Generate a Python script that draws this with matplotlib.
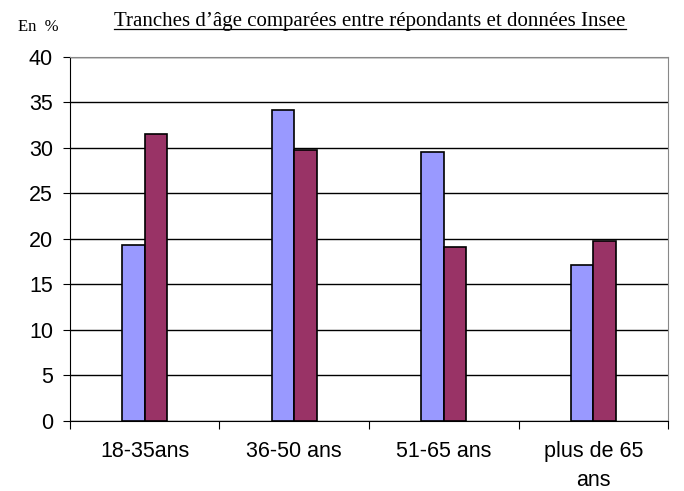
import matplotlib
matplotlib.use("Agg")
import matplotlib.pyplot as plt
import numpy as np

# Tranches d'âge : répondants vs Insee
categories = ["18-35ans", "36-50 ans", "51-65 ans", "plus de 65\nans"]
repondants = [19.3, 34.2, 29.5, 17.1]
insee = [31.5, 29.8, 19.1, 19.8]

fig = plt.figure(figsize=(6.84, 4.91), dpi=100)
ax = fig.add_axes([0.102, 0.143, 0.875, 0.741])

x = np.arange(len(categories))
w = 0.15
ax.bar(x - w / 2, repondants, w, color="#9999FF", edgecolor="black", linewidth=1.2, zorder=3)
ax.bar(x + w / 2, insee, w, color="#993366", edgecolor="black", linewidth=1.2, zorder=3)

ax.set_xlim(-0.5, len(categories) - 0.5)
ax.set_ylim(0, 40)
ax.set_yticks(range(0, 41, 5))
ax.yaxis.grid(True, color="black", linewidth=1, zorder=0)

# ticks on x between categories, labels at centres
ax.set_xticks(np.arange(-0.5, len(categories), 1))
ax.set_xticklabels([""] * (len(categories) + 1))
ax.set_xticks(x, minor=True)
ax.set_xticklabels(categories, minor=True, fontsize=15.5, family="Liberation Sans",
                   linespacing=1.5, va="top")
ax.tick_params(axis="x", which="minor", length=0, pad=14.5)
ax.tick_params(axis="x", which="major", length=6, direction="out", color="black")
ax.tick_params(axis="y", length=5, direction="out", labelsize=15.5, pad=7)
for lab in ax.get_yticklabels():
    lab.set_family("Liberation Sans")

ax.spines["left"].set_color("black")
ax.spines["bottom"].set_color("black")
ax.spines["top"].set_color("#888888")
ax.spines["right"].set_color("#888888")

title = fig.text(0.541, 0.957, "Tranches d\u2019âge comparées entre répondants et données Insee",
                 ha="center", va="center", fontsize=15, family="Liberation Serif")
fig.text(0.026, 0.945, "En  %", ha="left", va="center", fontsize=12, family="Liberation Serif")

# underline under the title
fig.canvas.draw()
bb = title.get_window_extent().transformed(fig.transFigure.inverted())
fig.add_artist(plt.Line2D([bb.x0, bb.x1], [bb.y0 + 0.004, bb.y0 + 0.004], color="black", linewidth=0.9))

fig.savefig("out.png", dpi=100)
